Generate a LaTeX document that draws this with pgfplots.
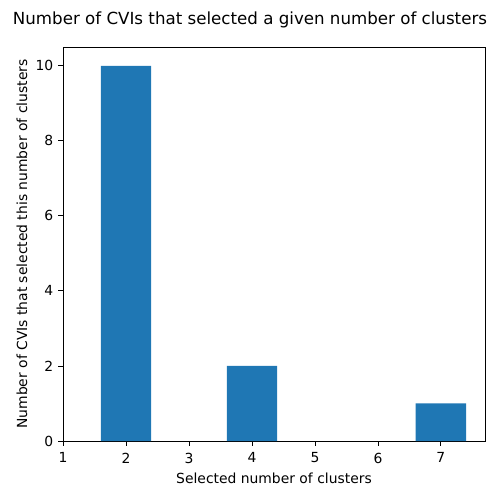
\documentclass[border=0pt]{standalone}
\usepackage{pgfplots}
\pgfplotsset{compat=1.18}
\usepackage{fontspec}
\setmainfont{DejaVu Sans}
\definecolor{mplblue}{HTML}{1F77B4}
\begin{document}
\begin{tikzpicture}
\useasboundingbox (-45.36pt,-42.48pt) rectangle (314.64pt,317.52pt);
\begin{axis}[
  at={(0,0)}, anchor=south west,
  scale only axis,
  width=303.84pt, height=283.68pt,
  xmin=1, xmax=7.7, ymin=0, ymax=10.5,
  xtick={1,2,3,4,5,6,7},
  ytick={0,2,4,6,8,10},
  tick align=outside,
  major tick length=3.5pt,
  tick style={black, line width=0.6pt},
  axis line style={line width=0.6pt},
  tick label style={font=\fontsize{10}{12}\selectfont},
  xticklabel style={yshift=-1.5pt},
  /pgf/number format/assume math mode=true,
  xtick pos=bottom, ytick pos=left,
  xlabel={Selected number of clusters},
  ylabel={Number of CVIs that selected this number of clusters},
  label style={font=\fontsize{10}{12}\selectfont},
  xlabel style={yshift=0pt},
  ylabel style={yshift=-1pt},
  title={Number of CVIs that selected a given number of clusters},
  title style={font=\fontsize{12}{14}\selectfont, yshift=4pt, xshift=-17.28pt},
  ybar, bar width=0.8, bar shift=0pt,
]
\addplot[fill=mplblue, draw=none] coordinates {(2,10) (4,2) (7,1)};
\end{axis}
\end{tikzpicture}
\end{document}
